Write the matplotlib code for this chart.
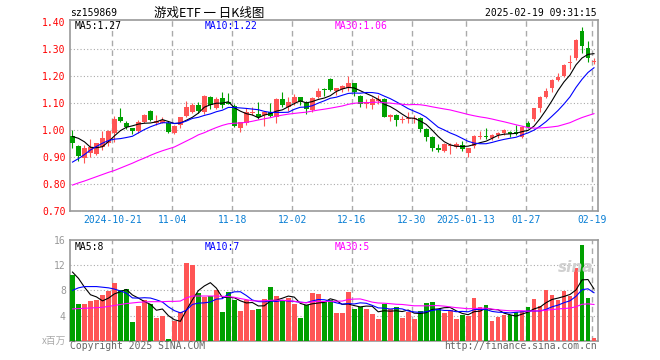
import matplotlib
matplotlib.use("Agg")
import matplotlib.pyplot as plt
import numpy as np

plt.rcParams['font.family'] = ['DejaVu Sans Mono', 'Noto Sans CJK SC']

# 日K数据 (2024-10-10 ~ 2025-02-19, 88个交易日)
opens = [0.975, 0.940, 0.896, 0.912, 0.910, 0.935, 0.949, 0.989, 1.047, 1.026,
         1.005, 0.995, 1.028, 1.069, 1.024, 1.026, 1.023, 0.989, 1.017, 1.052,
         1.067, 1.091, 1.065, 1.120, 1.081, 1.118, 1.100, 1.088, 1.007, 1.023,
         1.063, 1.058, 1.054, 1.064, 1.046, 1.114, 1.085, 1.100, 1.120, 1.100,
         1.073, 1.122, 1.151, 1.188, 1.143, 1.149, 1.153, 1.172, 1.125, 1.097,
         1.091, 1.107, 1.112, 1.048, 1.054, 1.036, 1.039, 1.041, 1.042, 1.002,
         0.974, 0.933, 0.922, 0.940, 0.937, 0.943, 0.915, 0.940, 0.974, 0.978,
         0.968, 0.980, 0.986, 0.993, 0.990, 0.974, 1.026, 1.038, 1.079, 1.120,
         1.153, 1.184, 1.199, 1.246, 1.264, 1.365, 1.301, 1.250]
highs = [0.999, 0.944, 0.943, 0.965, 0.952, 0.996, 0.999, 1.051, 1.079, 1.032,
         1.005, 1.036, 1.060, 1.073, 1.054, 1.046, 1.033, 1.017, 1.048, 1.107,
         1.098, 1.101, 1.128, 1.126, 1.122, 1.141, 1.137, 1.097, 1.030, 1.079,
         1.085, 1.104, 1.067, 1.100, 1.116, 1.141, 1.120, 1.132, 1.122, 1.107,
         1.120, 1.156, 1.153, 1.190, 1.156, 1.165, 1.198, 1.174, 1.128, 1.114,
         1.120, 1.128, 1.116, 1.060, 1.058, 1.051, 1.067, 1.054, 1.046, 1.005,
         0.977, 0.946, 0.950, 0.950, 0.956, 0.959, 0.931, 0.980, 0.995, 1.005,
         0.983, 0.993, 1.001, 0.995, 1.017, 1.014, 1.033, 1.081, 1.125, 1.153,
         1.186, 1.209, 1.242, 1.277, 1.335, 1.381, 1.330, 1.264]
lows = [0.931, 0.885, 0.878, 0.900, 0.906, 0.925, 0.940, 0.956, 1.030, 1.004,
        0.984, 0.989, 1.023, 1.032, 1.017, 1.023, 0.989, 0.984, 1.007, 1.046,
        1.063, 1.063, 1.060, 1.075, 1.077, 1.081, 1.095, 1.011, 0.993, 1.019,
        1.054, 1.038, 1.015, 1.046, 1.026, 1.085, 1.070, 1.091, 1.091, 1.060,
        1.067, 1.116, 1.126, 1.143, 1.128, 1.140, 1.143, 1.125, 1.085, 1.079,
        1.075, 1.097, 1.046, 1.033, 1.015, 1.024, 1.023, 1.023, 0.992, 0.959,
        0.922, 0.919, 0.919, 0.911, 0.933, 0.922, 0.898, 0.931, 0.965, 0.965,
        0.962, 0.970, 0.980, 0.972, 0.980, 0.968, 1.005, 1.033, 1.067, 1.116,
        1.141, 1.180, 1.194, 1.223, 1.258, 1.283, 1.252, 1.242]
closes = [0.949, 0.902, 0.931, 0.935, 0.949, 0.968, 0.996, 1.038, 1.032, 1.011,
          0.995, 1.028, 1.054, 1.036, 1.033, 1.036, 0.993, 1.015, 1.046, 1.085,
          1.091, 1.070, 1.125, 1.091, 1.114, 1.091, 1.097, 1.014, 1.028, 1.067,
          1.067, 1.046, 1.064, 1.052, 1.114, 1.091, 1.104, 1.122, 1.104, 1.075,
          1.116, 1.143, 1.148, 1.147, 1.153, 1.163, 1.172, 1.138, 1.097, 1.101,
          1.114, 1.112, 1.048, 1.054, 1.036, 1.038, 1.042, 1.043, 1.002, 0.974,
          0.931, 0.925, 0.947, 0.943, 0.947, 0.927, 0.931, 0.977, 0.978, 0.974,
          0.980, 0.986, 0.999, 0.984, 0.984, 1.011, 1.009, 1.079, 1.122, 1.144,
          1.184, 1.196, 1.240, 1.249, 1.332, 1.310, 1.264, 1.253]
# 成交量 (百万)
volumes = [10.45, 5.8, 5.8, 6.3, 6.45, 7.3, 7.95, 9.2, 8.05, 8.2,
           2.9, 5.5, 6.45, 5.8, 3.55, 3.9, 0.2, 3.2, 4.55, 12.4,
           12.1, 7.55, 6.9, 7.15, 8.1, 4.6, 7.8, 6.5, 4.7, 6.4,
           4.95, 5.05, 6.6, 8.55, 7.1, 6.45, 6.75, 5.8, 3.55, 5.65,
           7.55, 7.4, 6.3, 6.4, 4.35, 4.35, 7.8, 5.0, 5.35, 5.0,
           4.2, 3.4, 5.85, 5.0, 5.35, 3.55, 4.6, 3.4, 4.7, 6.0,
           6.15, 5.0, 4.35, 4.9, 3.4, 4.05, 3.95, 6.75, 5.35, 5.65,
           3.1, 3.75, 4.05, 4.05, 4.55, 4.7, 5.35, 6.6, 5.5, 8.05,
           7.25, 6.45, 7.9, 7.1, 11.6, 15.25, 6.75, 0.4]

# 均线开头部分 (窗口之前的数据不在图内, 从图上读取)
ma5_head = [0.975, 0.968, 0.955, 0.935]
ma10_head = [0.880, 0.893, 0.908, 0.925, 0.938, 0.950, 0.960, 0.965, 0.967]
ma30_head = [0.795, 0.803, 0.810, 0.818, 0.826, 0.834, 0.842, 0.849, 0.858, 0.867,
             0.876, 0.886, 0.895, 0.905, 0.914, 0.922, 0.929, 0.936, 0.947, 0.958,
             0.969, 0.981, 0.989, 0.999, 1.008, 1.016, 1.022, 1.024, 1.025]
vma5_head = [10.9, 9.9, 8.5, 7.3]
vma10_head = [8.0, 8.4, 8.6, 8.6, 8.6, 8.5, 8.4, 8.2, 7.9]
vma30_head = [5.05, 5.1, 5.15, 5.2, 5.25, 5.3, 5.45, 5.6, 5.75, 5.9,
              6.0, 6.1, 6.15, 6.2, 6.2, 6.2, 6.25, 6.25, 6.3, 6.8,
              7.1, 7.1, 7.1, 7.1, 7.1, 7.05, 7.0, 6.9, 6.7]

date_labels = ['2024-10-21', '11-04', '11-18', '12-02', '12-16', '12-30',
               '2025-01-13', '01-27', '02-19']
date_idx = [7, 17, 27, 37, 47, 57, 66, 76, 87]
price_ticks = [0.70, 0.80, 0.90, 1.00, 1.10, 1.20, 1.30, 1.40]
vol_ticks = [4, 8, 12, 16]
ma_price_text = ['1.27', '1.22', '1.06']
ma_vol_text = ['8', '7', '5']

RED = '#FF5555'
GREEN = '#00A000'
GRID = '#AAAAAA'
FRAME = '#999999'
DATE_BLUE = '#0A7FD4'


def moving_avg(vals, n, head):
    vals = np.asarray(vals, dtype=float)
    out = list(head)
    for i in range(n - 1, len(vals)):
        out.append(vals[i - n + 1:i + 1].mean())
    return np.array(out)


x = np.arange(len(closes))
o = np.array(opens); c = np.array(closes)
up = c >= o
colors = [RED if u else GREEN for u in up]

fig = plt.figure(figsize=(6.6, 3.6), dpi=100)
ax = fig.add_axes([70 / 660, 1 - 210.7 / 360, 527.7 / 660, 190.7 / 360])
axv = fig.add_axes([70 / 660, 1 - 340.7 / 360, 527.7 / 660, 100.7 / 360])

xlim = (-0.417, 87.62)

# K线
ax.vlines(x, lows, highs, colors=colors, linewidth=0.8, zorder=3)
body_h = np.maximum(np.abs(c - o), 0.004)
ax.bar(x, body_h, bottom=np.minimum(o, c), width=0.8, color=colors,
       linewidth=0, zorder=4)

ax.plot(x, moving_avg(closes, 5, ma5_head), color='black', lw=0.8, zorder=5)
ax.plot(x, moving_avg(closes, 10, ma10_head), color='#0000FF', lw=0.8, zorder=5)
ax.plot(x, moving_avg(closes, 30, ma30_head), color='#FF00FF', lw=0.8, zorder=5)

ax.set_xlim(*xlim)
ax.set_ylim(0.70, 1.4063)
ax.set_yticks(price_ticks)
ax.set_yticklabels([f'{t:.2f}' for t in price_ticks], color='red', fontsize=7)
ax.set_xticks([i - 0.37 for i in date_idx])
ax.set_xticklabels(date_labels, color=DATE_BLUE, fontsize=7)
for t in price_ticks[1:-1]:
    ax.axhline(t, color=GRID, lw=0.8, ls=(0, (1, 2)), zorder=1)
for i in date_idx:
    ax.axvline(i - 0.37, color=GRID, lw=1.0, ls=(0, (4, 3)), zorder=1)

# 成交量
axv.bar(x, volumes, width=0.8, color=colors, linewidth=0, zorder=3)
axv.plot(x, moving_avg(volumes, 5, vma5_head), color='black', lw=0.8, zorder=5)
axv.plot(x, moving_avg(volumes, 10, vma10_head), color='#0000FF', lw=0.8, zorder=5)
axv.plot(x, moving_avg(volumes, 30, vma30_head), color='#FF00FF', lw=0.8, zorder=5)
axv.set_xlim(*xlim)
axv.set_ylim(0, 16)
axv.set_yticks(vol_ticks)
axv.set_yticklabels([str(t) for t in vol_ticks], color='#999999', fontsize=7)
axv.set_xticks([])
for t in vol_ticks[:-1]:
    axv.axhline(t, color=GRID, lw=0.8, ls=(0, (1, 2)), zorder=1)
for i in date_idx:
    axv.axvline(i - 0.37, color=GRID, lw=1.0, ls=(0, (4, 3)), zorder=1)

for a in (ax, axv):
    for s in a.spines.values():
        s.set_color(FRAME)
        s.set_linewidth(1.2)
    a.tick_params(length=0, pad=3)

# 文字
fig.text(70 / 660, 1 - 13 / 360, 'sz159869', fontsize=7, va='center', ha='left')
fig.text(209 / 660, 1 - 13 / 360, '游戏ETF 一 日K线图', fontsize=9, va='center',
         ha='center', family=['Noto Sans CJK SC', 'DejaVu Sans'])
fig.text(597 / 660, 1 - 13 / 360, '2025-02-19 09:31:15', fontsize=7,
         va='center', ha='right')

fig.text(75 / 660, 1 - 26 / 360, 'MA5:' + ma_price_text[0], fontsize=7, va='center')
fig.text(205 / 660, 1 - 26 / 360, 'MA10:' + ma_price_text[1], fontsize=7,
         va='center', color='#0000FF')
fig.text(335 / 660, 1 - 26 / 360, 'MA30:' + ma_price_text[2], fontsize=7,
         va='center', color='#FF00FF')
fig.text(75 / 660, 1 - 247 / 360, 'MA5:' + ma_vol_text[0], fontsize=7, va='center')
fig.text(205 / 660, 1 - 247 / 360, 'MA10:' + ma_vol_text[1], fontsize=7,
         va='center', color='#0000FF')
fig.text(335 / 660, 1 - 247 / 360, 'MA30:' + ma_vol_text[2], fontsize=7,
         va='center', color='#FF00FF')

fig.text(66 / 660, 1 - 341 / 360, 'x百万', fontsize=7, va='center', ha='right',
         color='#AAAAAA', family=['Noto Sans CJK SC', 'DejaVu Sans'])
fig.text(70 / 660, 1 - 346 / 360, 'Copyright 2025 SINA.COM', fontsize=7,
         va='center', ha='left', color='#666666')
fig.text(597 / 660, 1 - 346 / 360, 'http://finance.sina.com.cn', fontsize=7,
         va='center', ha='right', color='#666666')
fig.text(576 / 660, 1 - 268 / 360, 'sina', fontsize=11, va='center', ha='center',
         color='#D0D0D0', style='italic', weight='bold', family='DejaVu Sans')

fig.savefig('out.png', dpi=100, facecolor='white')
